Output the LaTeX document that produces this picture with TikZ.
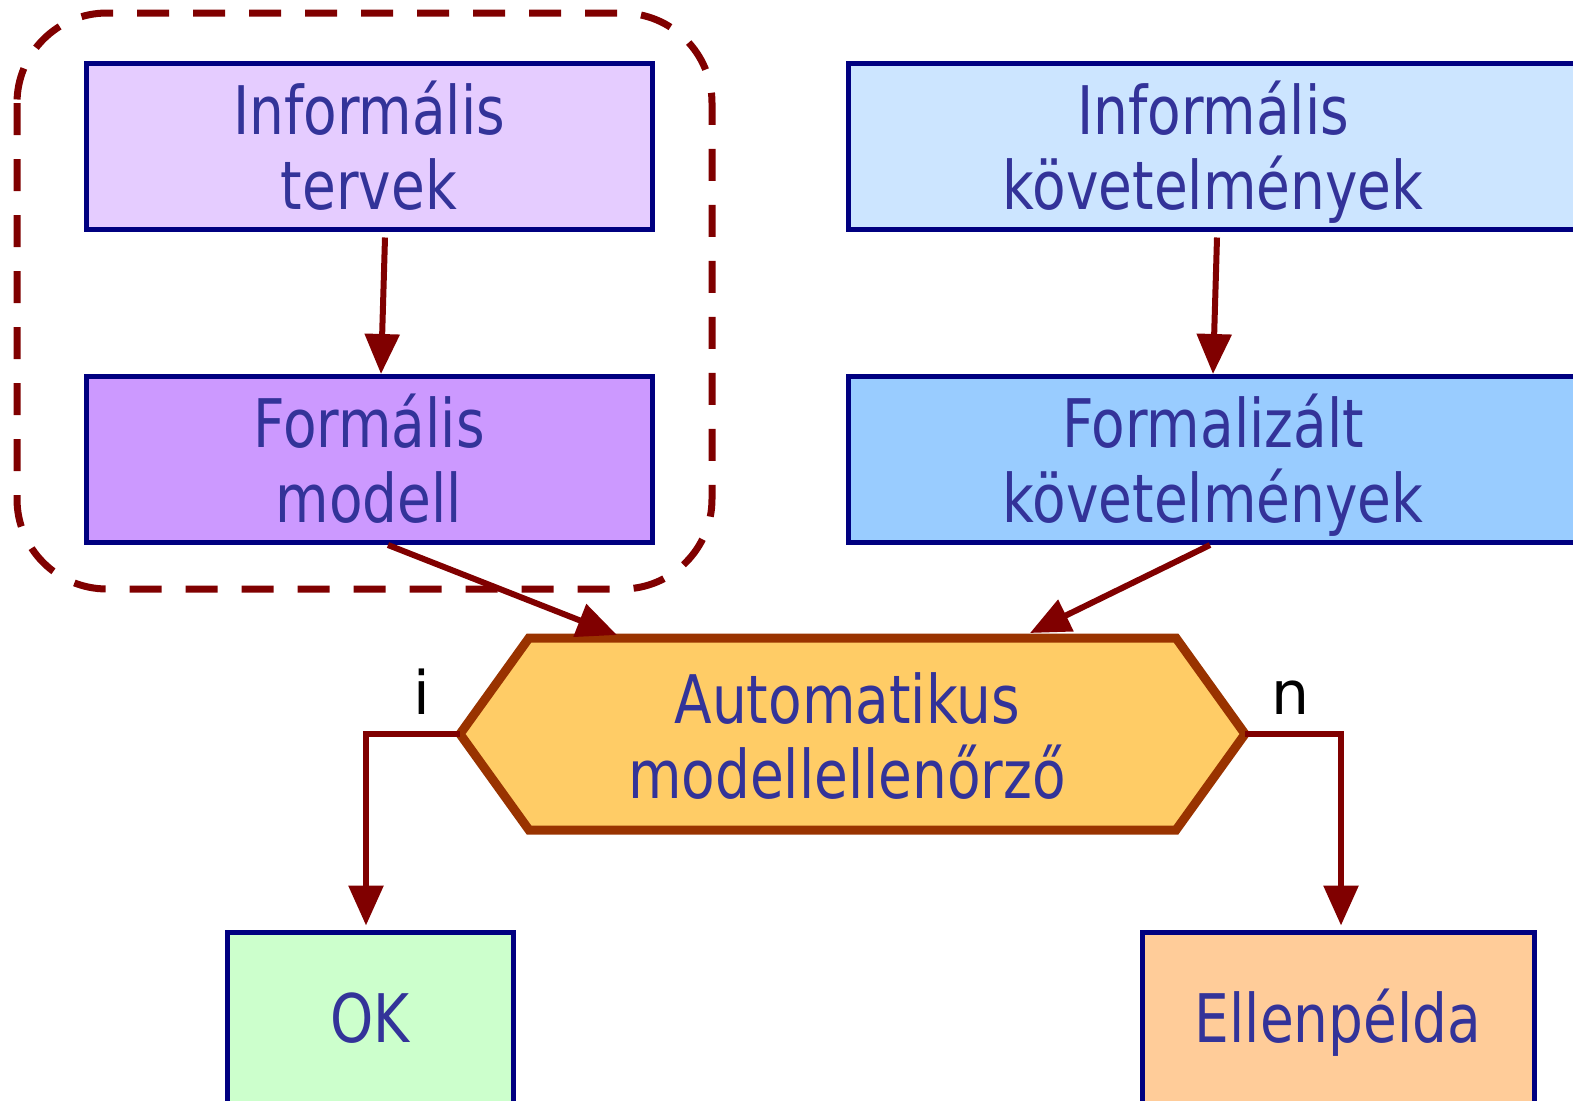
\documentclass[tikz,border=0pt]{standalone}
\usepackage{fontspec}
\setmainfont{DejaVu Sans}[FakeStretch=0.82]
\newfontfamily\lblfont{DejaVu Sans}
\usetikzlibrary{arrows.meta,calc}
\definecolor{navyb}{HTML}{000080}
\definecolor{txtc}{HTML}{333399}
\definecolor{darkred}{HTML}{800000}
\definecolor{hexborder}{HTML}{993300}
\definecolor{hexfill}{HTML}{FFCC66}
\definecolor{lav}{HTML}{E5CCFF}
\definecolor{purp}{HTML}{CC99FF}
\definecolor{lblue}{HTML}{CCE5FF}
\definecolor{mblue}{HTML}{99CCFF}
\definecolor{lgreen}{HTML}{CCFFCC}
\definecolor{peach}{HTML}{FFCC99}
\newcommand\mytop{\rule{0pt}{70pt}}
\newcommand\mybot{\rule[-19pt]{0pt}{19pt}}
\newcommand\myone{\rule[-21pt]{0pt}{91pt}}
\tikzset{
  box/.style={draw=navyb, line width=5pt, minimum width=566pt, minimum height=166pt,
    inner sep=0pt, align=center, text=txtc, font=\fontsize{67}{75}\selectfont},
  arr/.style={draw=darkred, line width=6pt, -{Triangle[length=40pt,width=34pt]}},
  lbl/.style={font=\lblfont\fontsize{60}{64}\selectfont, text=black}
}
\begin{document}
\begin{tikzpicture}[x=1pt,y=-1pt]
\useasboundingbox (0,0) rectangle (1573,1100);
\clip (0,0) rectangle (1573,1100);
% dashed group
\draw[darkred, line width=7pt, dash pattern=on 32pt off 24pt, rounded corners=90pt]
  (17,13) rectangle (712,589);
% boxes
\node[box, fill=lav] (b1) at (369,146) {\mytop Informális\\tervek\mybot};
\node[box, fill=purp] (b2) at (369,459.5) {\mytop Formális\\modell\mybot};
\node[box, fill=lblue, minimum width=730pt] (b3) at (1213,146) {\mytop Informális\\követelmények\mybot};
\node[box, fill=mblue, minimum width=730pt] (b4) at (1213,459.5) {\mytop Formalizált\\követelmények\mybot};
\node[box, fill=lgreen, minimum width=286pt, minimum height=172pt] (ok) at (370,1018) {\myone OK};
\node[box, fill=peach, minimum width=392pt, minimum height=172pt] (ce) at (1338,1018) {\myone Ellenpélda};
% hexagon
\coordinate (hl) at (460,734);
\coordinate (hr) at (1245,734);
\draw[hexborder, line width=9pt, line join=miter, fill=hexfill]
  (hl) -- (529,638) -- (1176,638) -- (hr) -- (1176,830) -- (529,830) -- cycle;
\node[align=center, text=txtc, font=\fontsize{67}{75}\selectfont, inner sep=0pt] (hex) at (847,735.5) {\mytop Automatikus\\modellellenőrző\mybot};
\coordinate (hexin1) at (617,635);
\coordinate (hexin2) at (1030,633);
% arrows
\draw[arr] ([xshift=16pt,yshift=-6pt]b1.south) -- ([xshift=12pt]b2.north);
\draw[arr] ([xshift=4pt,yshift=-6pt]b3.south) -- ([xshift=0pt]b3.south |- b4.north);
\draw[arr] ([xshift=19pt]b2.south) -- (hexin1);
\draw[arr] ([xshift=-3pt]b4.south) -- (hexin2);
\draw[arr, line join=miter] (hl) -| ([yshift=4pt]ok.north -| 366,0);
\draw[arr, line join=miter] (hr) -| ([yshift=4pt]ce.north -| 1341,0);
% labels
\node[lbl] (li) at (422,692) {i};
\node[lbl] (ln) at (1290,698) {n};
\end{tikzpicture}
\end{document}
